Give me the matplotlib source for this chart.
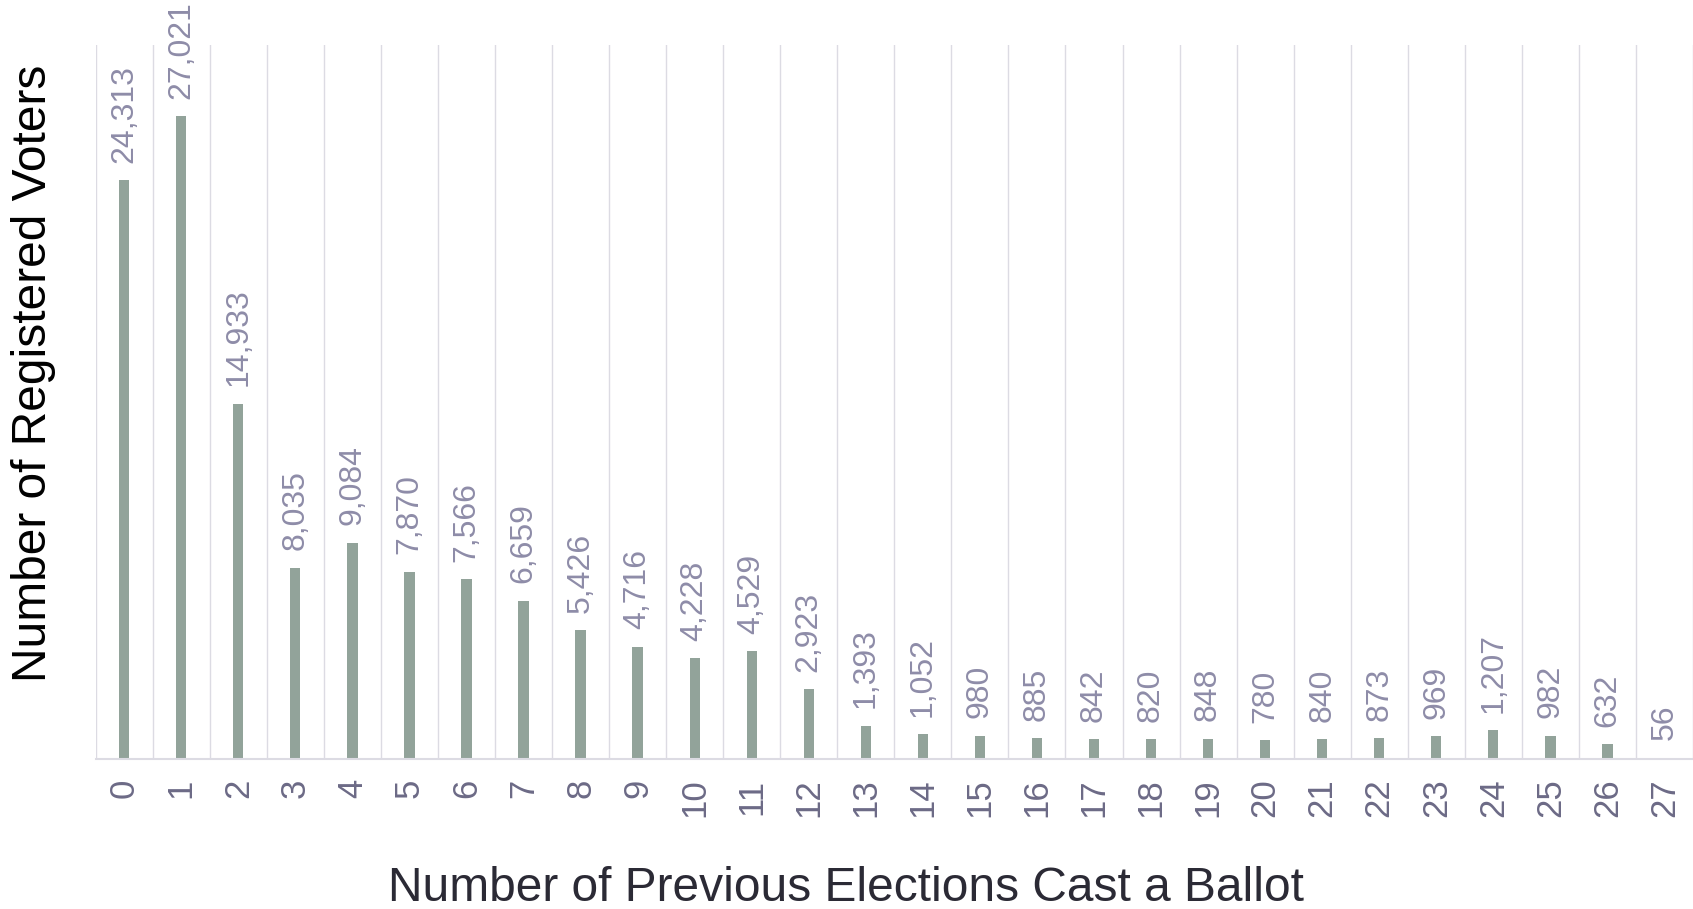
import numpy as np
import matplotlib.pyplot as plt

plt.rcParams['font.family'] = ['Liberation Sans', 'DejaVu Sans']

elections = [str(i) for i in range(28)]
voters = [24313, 27021, 14933, 8035, 9084, 7870, 7566, 6659, 5426, 4716,
          4228, 4529, 2923, 1393, 1052, 980, 885, 842, 820, 848,
          780, 840, 873, 969, 1207, 982, 632, 56]

bar_color = "#92a39a"
label_color = "#8e8ca8"
tick_color = "#6c6a86"
grid_color = "#dcdbe3"

fig = plt.figure(figsize=(16.93, 9.09), dpi=100)
ax = fig.add_axes([0.0565, 0.165, 0.9435, 0.7855])

x = np.arange(len(voters))
ax.bar(x, voters, width=0.18, color=bar_color, zorder=2)

for xi, v in zip(x, voters):
    ax.annotate(f"{v:,}", (xi, v), xytext=(0, 12.5), textcoords="offset points",
                rotation=90, ha="center", va="bottom", fontsize=23,
                color=label_color, annotation_clip=False)

# vertical separators between categories
for b in np.arange(-0.5, len(voters), 1.0):
    ax.axvline(b, color=grid_color, lw=1.0, zorder=1)

ax.set_xlim(-0.5, len(voters) - 0.5)
ax.set_ylim(0, 30000)
ax.set_xticks(x)
ax.set_xticklabels(elections, rotation=90, fontsize=25, color=tick_color)
ax.tick_params(axis="x", length=0, pad=14)
ax.set_yticks([])
for s in ["top", "right", "left"]:
    ax.spines[s].set_visible(False)
ax.spines["bottom"].set_color(grid_color)
ax.spines["bottom"].set_linewidth(1.5)

fig.text(0.0195, 0.589, "Number of Registered Voters", rotation=90,
         ha="center", va="center", fontsize=34.5, color="black")
fig.text(0.5, 0.023, "Number of Previous Elections Cast a Ballot",
         ha="center", va="center", fontsize=34.5, color="#2b2a35")

fig.savefig("out.png", dpi=100)
